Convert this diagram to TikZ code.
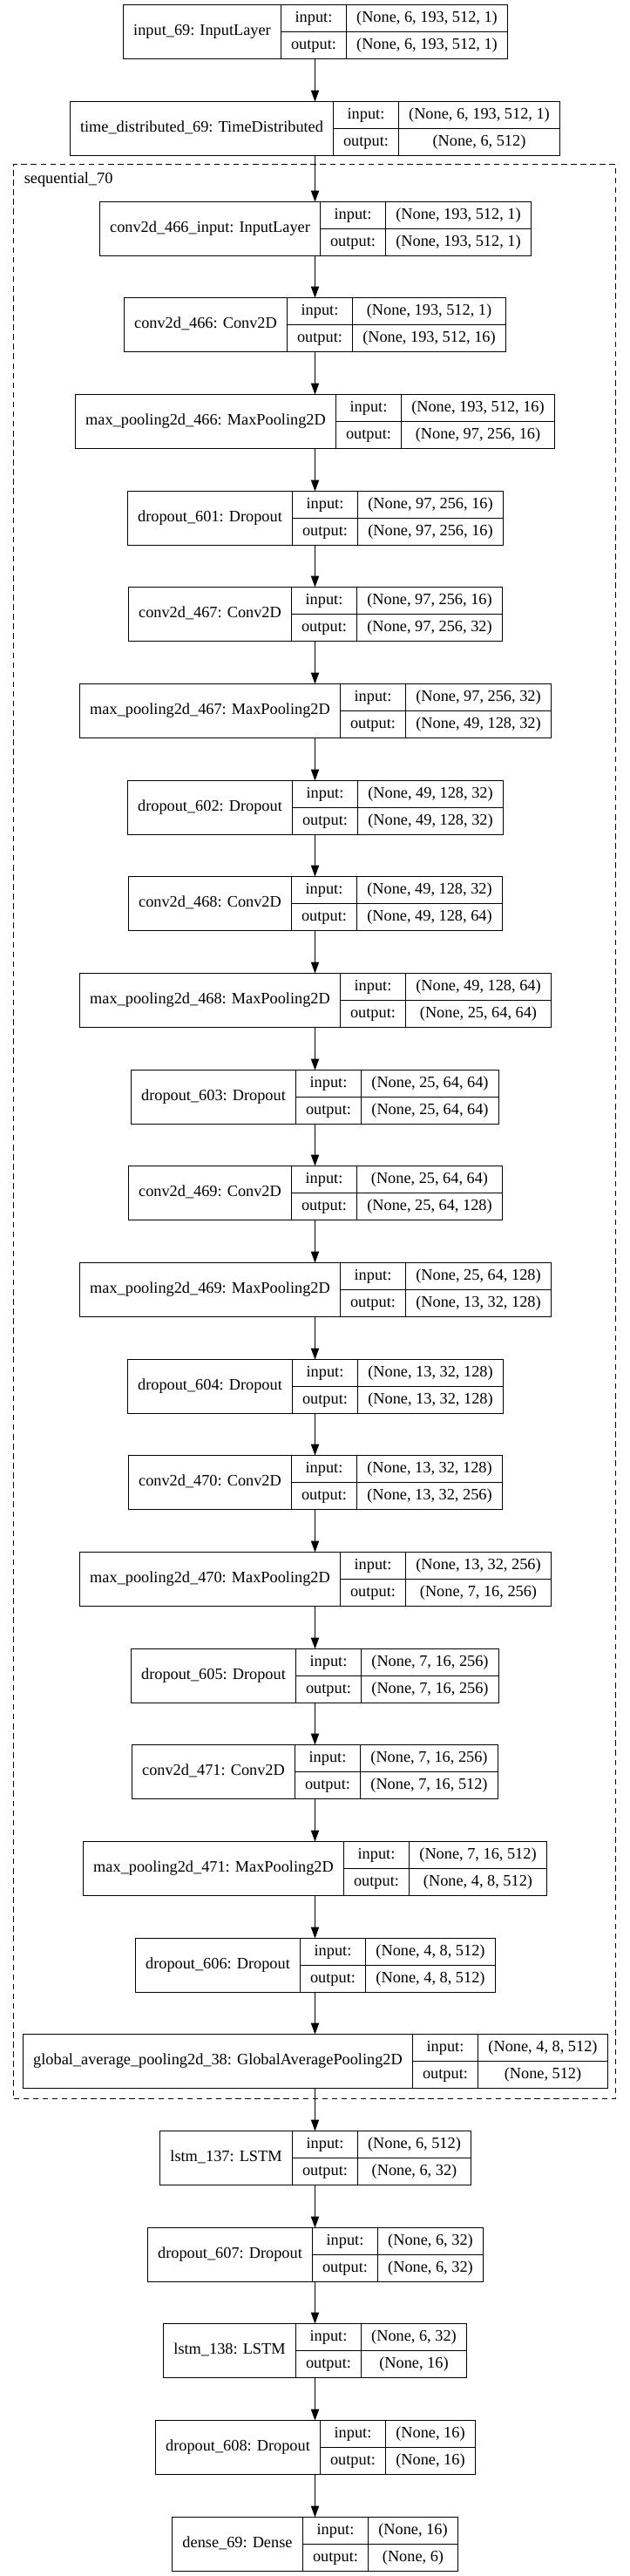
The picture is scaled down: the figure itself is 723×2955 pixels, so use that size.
\documentclass[tikz,border=0pt]{standalone}
\usepackage{fontspec}
\setmainfont{Liberation Serif}
\usetikzlibrary{arrows.meta}
\newlength\wA \newlength\wB \newlength\wC \newlength\wD
\newcommand\lfont{\fontsize{13.725}{16}\selectfont}
\def\cx{361.5}
\def\bh{62}
\newcommand\measurewidths[3]{%
  \settowidth\wA{#1}\global\wA=\wA
  \settowidth\wB{output:}\global\wB=\wB
  \settowidth\wC{#2}\global\wC=\wC
  \settowidth\wD{#3}\global\wD=\wD}
\newcommand\layer[5]{%
  \node[inner sep=0pt, outer sep=0pt, font=\lfont] (#1-m) at (\cx,#2) {\measurewidths{#3}{#4}{#5}};
  \ifdim\wD>\wC \global\wC=\wD\fi
  \pgfmathsetmacro\Wl{round(\wA/0.75+23.5)}%
  \pgfmathsetmacro\Wn{round(\wB/0.75+23.5)}%
  \pgfmathsetmacro\Wv{round(\wC/0.75+23.5)}%
  \pgfmathsetmacro\Wt{\Wl+\Wn+\Wv}%
  \pgfmathsetmacro\Lx{floor(\cx-\Wt/2)+0.5}%
  \pgfmathsetmacro\Nx{\Lx+\Wl}%
  \pgfmathsetmacro\Vx{\Nx+\Wn}%
  \pgfmathsetmacro\Ty{floor(#2)+0.5}%
  \pgfmathsetmacro\Cy{\Ty+\bh/2}%
  \pgfmathsetmacro\WtP{\Wt*0.75}%
  \pgfmathsetmacro\WlP{\Wl*0.75}%
  \pgfmathsetmacro\WnP{\Wn*0.75}%
  \pgfmathsetmacro\WvP{\Wv*0.75}%
  \pgfmathsetmacro\HP{\bh*0.75}%
  \pgfmathsetmacro\hP{\bh*0.375}%
  \node[box, minimum width=\WtP pt, minimum height=\HP pt] (#1) at (\cx,\Cy) {};
  \node[cell, minimum width=\WlP pt, minimum height=\HP pt] (#1-lab) at (\Lx,\Ty) {#3};
  \node[cell, minimum width=\WnP pt, minimum height=\hP pt] (#1-in) at (\Nx,\Ty) {input:};
  \node[cell, minimum width=\WvP pt, minimum height=\hP pt] (#1-inv) at (\Vx,\Ty) {#4};
  \node[cell, minimum width=\WnP pt, minimum height=\hP pt] (#1-out) at (\Nx,\Cy) {output:};
  \node[cell, minimum width=\WvP pt, minimum height=\hP pt] (#1-outv) at (\Vx,\Cy) {#5};
}
\tikzset{
  box/.style={draw=none, inner sep=0pt, outer sep=0pt, rectangle},
  cell/.style={draw=black, line width=0.75pt, inner sep=0pt, outer sep=0pt, rectangle, anchor=north west,
    font=\lfont, text height=9.3pt, text depth=3pt, align=center},
  edge/.style={draw=black, line width=0.75pt, -{Triangle[length=9.75pt,width=7pt]}},
  cluster/.style={draw=black, line width=0.75pt, dash pattern=on 4.9pt off 3.4pt, inner sep=0pt, outer sep=0pt, rectangle}
}
\begin{document}
\begin{tikzpicture}[x=0.75pt, y=-0.75pt]
\useasboundingbox (0,0) rectangle (723,2955);
\fill[white] (0,0) rectangle (723,2955);
% cluster
\node[cluster, minimum width=518.25pt, minimum height=1664.25pt] (seq70) at (361,1298) {};
\node[font=\lfont, anchor=base west, inner sep=0pt] (seq70-lab) at (27.5,210) {sequential\_70};
% layers
\layer{L0}{5.7}{input\_69: InputLayer}{(None, 6, 193, 512, 1)}{(None, 6, 193, 512, 1)}
\layer{L1}{116.5}{time\_distributed\_69: TimeDistributed}{(None, 6, 193, 512, 1)}{(None, 6, 512)}
\layer{L2}{231.0}{conv2d\_466\_input: InputLayer}{(None, 193, 512, 1)}{(None, 193, 512, 1)}
\layer{L3}{341.67}{conv2d\_466: Conv2D}{(None, 193, 512, 1)}{(None, 193, 512, 16)}
\layer{L4}{452.34}{max\_pooling2d\_466: MaxPooling2D}{(None, 193, 512, 16)}{(None, 97, 256, 16)}
\layer{L5}{563.01}{dropout\_601: Dropout}{(None, 97, 256, 16)}{(None, 97, 256, 16)}
\layer{L6}{673.68}{conv2d\_467: Conv2D}{(None, 97, 256, 16)}{(None, 97, 256, 32)}
\layer{L7}{784.35}{max\_pooling2d\_467: MaxPooling2D}{(None, 97, 256, 32)}{(None, 49, 128, 32)}
\layer{L8}{895.02}{dropout\_602: Dropout}{(None, 49, 128, 32)}{(None, 49, 128, 32)}
\layer{L9}{1005.69}{conv2d\_468: Conv2D}{(None, 49, 128, 32)}{(None, 49, 128, 64)}
\layer{L10}{1116.36}{max\_pooling2d\_468: MaxPooling2D}{(None, 49, 128, 64)}{(None, 25, 64, 64)}
\layer{L11}{1227.03}{dropout\_603: Dropout}{(None, 25, 64, 64)}{(None, 25, 64, 64)}
\layer{L12}{1337.7}{conv2d\_469: Conv2D}{(None, 25, 64, 64)}{(None, 25, 64, 128)}
\layer{L13}{1448.37}{max\_pooling2d\_469: MaxPooling2D}{(None, 25, 64, 128)}{(None, 13, 32, 128)}
\layer{L14}{1559.04}{dropout\_604: Dropout}{(None, 13, 32, 128)}{(None, 13, 32, 128)}
\layer{L15}{1669.71}{conv2d\_470: Conv2D}{(None, 13, 32, 128)}{(None, 13, 32, 256)}
\layer{L16}{1780.38}{max\_pooling2d\_470: MaxPooling2D}{(None, 13, 32, 256)}{(None, 7, 16, 256)}
\layer{L17}{1891.05}{dropout\_605: Dropout}{(None, 7, 16, 256)}{(None, 7, 16, 256)}
\layer{L18}{2001.72}{conv2d\_471: Conv2D}{(None, 7, 16, 256)}{(None, 7, 16, 512)}
\layer{L19}{2112.39}{max\_pooling2d\_471: MaxPooling2D}{(None, 7, 16, 512)}{(None, 4, 8, 512)}
\layer{L20}{2223.06}{dropout\_606: Dropout}{(None, 4, 8, 512)}{(None, 4, 8, 512)}
\layer{L21}{2333.73}{global\_average\_pooling2d\_38: GlobalAveragePooling2D}{(None, 4, 8, 512)}{(None, 512)}
\layer{L22}{2444.4}{lstm\_137: LSTM}{(None, 6, 512)}{(None, 6, 32)}
\layer{L23}{2555.07}{dropout\_607: Dropout}{(None, 6, 32)}{(None, 6, 32)}
\layer{L24}{2665.74}{lstm\_138: LSTM}{(None, 6, 32)}{(None, 16)}
\layer{L25}{2776.41}{dropout\_608: Dropout}{(None, 16)}{(None, 16)}
\layer{L26}{2887.08}{dense\_69: Dense}{(None, 16)}{(None, 6)}
% connectors
\foreach \a/\b in {L0/L1,L1/L2,L2/L3,L3/L4,L4/L5,L5/L6,L6/L7,L7/L8,L8/L9,L9/L10,L10/L11,L11/L12,L12/L13,L13/L14,L14/L15,L15/L16,L16/L17,L17/L18,L18/L19,L19/L20,L20/L21,L21/L22,L22/L23,L23/L24,L24/L25,L25/L26}
  \draw[edge] (\a.south) -- (\b.north);
\end{tikzpicture}
\end{document}
